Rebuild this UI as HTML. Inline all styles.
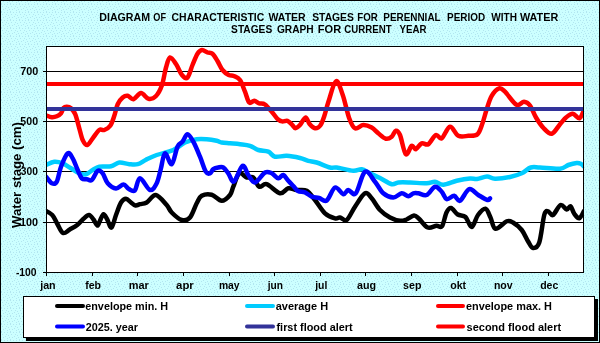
<!DOCTYPE html>
<html><head><meta charset="utf-8"><style>
html,body{margin:0;padding:0;width:600px;height:343px;overflow:hidden;background:#c7fafc}
svg{display:block;will-change:transform}
text{font-family:"Liberation Sans",sans-serif;font-weight:bold;fill:#000}
</style></head><body>
<svg width="600" height="343" viewBox="0 0 600 343">
<defs><pattern id="dith" x="0" y="4" width="9" height="8" patternUnits="userSpaceOnUse"><rect width="9" height="8" fill="#ccffff"/><g fill="#b2e6f0" shape-rendering="crispEdges"><rect x="1" y="0" width="1" height="1"/><rect x="4" y="0" width="1" height="1"/><rect x="7" y="0" width="1" height="1"/><rect x="2" y="2" width="1" height="1"/><rect x="6" y="2" width="1" height="1"/><rect x="8" y="3" width="1" height="1"/><rect x="5" y="4" width="1" height="1"/><rect x="0" y="5" width="1" height="1"/><rect x="3" y="5" width="1" height="1"/><rect x="7" y="6" width="1" height="1"/><rect x="1" y="7" width="1" height="1"/></g></pattern></defs><rect x="0" y="0" width="600" height="343" fill="url(#dith)"/>
<rect x="0.5" y="0.5" width="599" height="342" fill="none" stroke="#000" stroke-width="1"/>
<text x="99.29" y="21" font-size="10.5" textLength="50.82" lengthAdjust="spacingAndGlyphs" >DIAGRAM</text><text x="153.32" y="21" font-size="10.5" textLength="12.71" lengthAdjust="spacingAndGlyphs" >OF</text><text x="171.57" y="21" font-size="10.5" textLength="92.71" lengthAdjust="spacingAndGlyphs" >CHARACTERISTIC</text><text x="268.49" y="21" font-size="10.5" textLength="37.22" lengthAdjust="spacingAndGlyphs" >WATER</text><text x="312.21" y="21" font-size="10.5" textLength="41.69" lengthAdjust="spacingAndGlyphs" >STAGES</text><text x="357.35" y="21" font-size="10.5" textLength="20.55" lengthAdjust="spacingAndGlyphs" >FOR</text><text x="383.34" y="21" font-size="10.5" textLength="57.27" lengthAdjust="spacingAndGlyphs" >PERENNIAL</text><text x="447.04" y="21" font-size="10.5" textLength="38.08" lengthAdjust="spacingAndGlyphs" >PERIOD</text><text x="491.29" y="21" font-size="10.5" textLength="25.69" lengthAdjust="spacingAndGlyphs" >WITH</text><text x="519.99" y="21" font-size="10.5" textLength="38.22" lengthAdjust="spacingAndGlyphs" >WATER</text>
<text x="231.11" y="33" font-size="10.5" textLength="41.08" lengthAdjust="spacingAndGlyphs" >STAGES</text><text x="276.88" y="33" font-size="10.5" textLength="36.80" lengthAdjust="spacingAndGlyphs" >GRAPH</text><text x="317.86" y="33" font-size="10.5" textLength="23.37" lengthAdjust="spacingAndGlyphs" >FOR</text><text x="344.30" y="33" font-size="10.5" textLength="47.30" lengthAdjust="spacingAndGlyphs" >CURRENT</text><text x="399.53" y="33" font-size="10.5" textLength="26.96" lengthAdjust="spacingAndGlyphs" >YEAR</text>
<rect x="46" y="46" width="537" height="226" fill="#fff"/>
<line x1="46" y1="71.50" x2="583" y2="71.50" stroke="#000" stroke-width="1"/><line x1="46" y1="121.50" x2="583" y2="121.50" stroke="#000" stroke-width="1"/><line x1="46" y1="171.50" x2="583" y2="171.50" stroke="#000" stroke-width="1"/><line x1="46" y1="222.50" x2="583" y2="222.50" stroke="#000" stroke-width="1"/>
<defs><clipPath id="pc"><rect x="46" y="46" width="538" height="227"/></clipPath></defs>
<g clip-path="url(#pc)" fill="none" stroke-linejoin="round" stroke-linecap="round" stroke-width="4.5">
<path d="M45.00,210.50 C46.21,211.25 50.21,212.79 52.25,215.00 C54.29,217.21 55.46,220.75 57.25,223.75 C59.04,226.75 60.92,232.04 63.00,233.00 C65.08,233.96 67.38,230.83 69.75,229.50 C72.12,228.17 74.96,226.79 77.25,225.00 C79.54,223.21 81.54,220.42 83.50,218.75 C85.46,217.08 87.33,214.88 89.00,215.00 C90.67,215.12 92.12,217.75 93.50,219.50 C94.88,221.25 96.21,225.21 97.25,225.50 C98.29,225.79 98.71,223.12 99.75,221.25 C100.79,219.38 102.25,214.54 103.50,214.25 C104.75,213.96 105.92,217.29 107.25,219.50 C108.58,221.71 110.04,228.25 111.50,227.50 C112.96,226.75 114.42,219.17 116.00,215.00 C117.58,210.83 119.33,205.21 121.00,202.50 C122.67,199.79 124.33,198.75 126.00,198.75 C127.67,198.75 129.42,201.38 131.00,202.50 C132.58,203.62 134.00,205.22 135.50,205.50 C137.00,205.78 138.13,204.70 140.00,204.20 C141.87,203.70 144.07,204.03 146.70,202.50 C149.33,200.97 152.47,194.58 155.80,195.00 C159.13,195.42 164.05,202.08 166.70,205.00 C169.35,207.92 169.20,210.00 171.70,212.50 C174.20,215.00 178.65,219.17 181.70,220.00 C184.75,220.83 187.50,220.28 190.00,217.50 C192.50,214.72 194.75,206.92 196.70,203.30 C198.65,199.68 199.20,197.23 201.70,195.80 C204.20,194.37 208.37,193.87 211.70,194.70 C215.03,195.53 218.65,200.75 221.70,200.80 C224.75,200.85 228.07,197.35 230.00,195.00 C231.93,192.65 231.77,190.32 233.30,186.70 C234.83,183.08 236.97,174.83 239.20,173.30 C241.43,171.77 244.35,176.80 246.70,177.50 C249.05,178.20 251.22,175.97 253.30,177.50 C255.38,179.03 256.97,185.58 259.20,186.70 C261.43,187.82 263.23,183.10 266.70,184.20 C270.17,185.30 276.40,192.62 280.00,193.30 C283.60,193.98 285.52,188.85 288.30,188.30 C291.08,187.75 293.63,189.58 296.70,190.00 C299.77,190.42 303.65,189.13 306.70,190.80 C309.75,192.47 311.95,196.25 315.00,200.00 C318.05,203.75 321.67,210.25 325.00,213.30 C328.33,216.35 332.50,217.60 335.00,218.30 C337.50,219.00 338.05,217.22 340.00,217.50 C341.95,217.78 344.20,221.80 346.70,220.00 C349.20,218.20 351.95,211.15 355.00,206.70 C358.05,202.25 362.22,194.70 365.00,193.30 C367.78,191.90 369.20,195.52 371.70,198.30 C374.20,201.08 376.95,206.80 380.00,210.00 C383.05,213.20 386.67,215.70 390.00,217.50 C393.33,219.30 397.25,220.47 400.00,220.80 C402.75,221.13 404.17,220.38 406.50,219.50 C408.83,218.62 411.92,215.62 414.00,215.50 C416.08,215.38 416.71,216.75 419.00,218.75 C421.29,220.75 424.83,226.33 427.75,227.50 C430.67,228.67 434.12,225.96 436.50,225.75 C438.88,225.54 440.33,228.46 442.00,226.25 C443.67,224.04 445.00,215.54 446.50,212.50 C448.00,209.46 449.12,207.67 451.00,208.00 C452.88,208.33 455.33,213.00 457.75,214.50 C460.17,216.00 463.17,214.92 465.50,217.00 C467.83,219.08 469.67,227.33 471.75,227.00 C473.83,226.67 475.71,218.04 478.00,215.00 C480.29,211.96 483.42,208.33 485.50,208.75 C487.58,209.17 488.83,214.17 490.50,217.50 C492.17,220.83 492.79,228.12 495.50,228.75 C498.21,229.38 503.83,222.29 506.75,221.25 C509.67,220.21 510.50,221.04 513.00,222.50 C515.50,223.96 519.25,226.88 521.75,230.00 C524.25,233.12 526.12,238.25 528.00,241.25 C529.88,244.25 531.12,247.79 533.00,248.00 C534.88,248.21 537.38,248.00 539.25,242.50 C541.12,237.00 542.79,220.21 544.25,215.00 C545.71,209.79 546.54,211.25 548.00,211.25 C549.46,211.25 550.92,216.04 553.00,215.00 C555.08,213.96 558.21,205.92 560.50,205.00 C562.79,204.08 565.08,209.29 566.75,209.50 C568.42,209.71 569.25,205.54 570.50,206.25 C571.75,206.96 572.79,211.75 574.25,213.75 C575.71,215.75 577.62,218.71 579.25,218.25 C580.88,217.79 583.21,212.21 584.00,211.00" stroke="#000"/>
<path d="M46.00,165.00 C47.38,164.45 51.52,161.98 54.30,161.70 C57.08,161.42 59.92,162.20 62.70,163.30 C65.48,164.40 68.23,166.63 71.00,168.30 C73.77,169.97 76.80,172.32 79.30,173.30 C81.80,174.28 83.77,174.75 86.00,174.20 C88.23,173.65 90.48,171.25 92.70,170.00 C94.92,168.75 96.25,167.32 99.30,166.70 C102.35,166.08 107.67,167.00 111.00,166.30 C114.33,165.60 116.25,162.85 119.30,162.50 C122.35,162.15 126.23,163.92 129.30,164.20 C132.37,164.48 134.92,164.95 137.70,164.20 C140.48,163.45 142.83,161.23 146.00,159.70 C149.17,158.17 152.15,156.62 156.70,155.00 C161.25,153.38 168.58,152.08 173.30,150.00 C178.02,147.92 181.10,144.30 185.00,142.50 C188.90,140.70 193.08,139.75 196.70,139.20 C200.32,138.65 203.37,138.93 206.70,139.20 C210.03,139.47 214.20,140.25 216.70,140.80 C219.20,141.35 219.48,142.08 221.70,142.50 C223.92,142.92 226.95,143.02 230.00,143.30 C233.05,143.58 236.67,143.78 240.00,144.20 C243.33,144.62 246.95,144.83 250.00,145.80 C253.05,146.77 255.25,149.02 258.30,150.00 C261.35,150.98 265.52,150.58 268.30,151.70 C271.08,152.82 271.93,156.02 275.00,156.70 C278.07,157.38 282.53,155.58 286.70,155.80 C290.87,156.02 296.40,157.17 300.00,158.00 C303.60,158.83 305.52,160.05 308.30,160.80 C311.08,161.55 313.08,161.38 316.70,162.50 C320.32,163.62 326.67,166.67 330.00,167.50 C333.33,168.33 332.82,166.95 336.70,167.50 C340.58,168.05 349.13,170.52 353.30,170.80 C357.47,171.08 358.92,168.78 361.70,169.20 C364.48,169.62 366.95,171.83 370.00,173.30 C373.05,174.77 376.38,176.18 380.00,178.00 C383.62,179.82 388.65,183.45 391.70,184.20 C394.75,184.95 395.25,182.78 398.30,182.50 C401.35,182.22 405.27,182.37 410.00,182.50 C414.73,182.63 422.53,183.43 426.70,183.30 C430.87,183.17 432.23,181.47 435.00,181.70 C437.77,181.93 439.68,184.85 443.30,184.70 C446.92,184.55 452.25,181.83 456.70,180.80 C461.15,179.77 466.62,178.80 470.00,178.50 C473.38,178.20 474.17,179.33 477.00,179.00 C479.83,178.67 484.00,176.55 487.00,176.50 C490.00,176.45 491.17,178.62 495.00,178.70 C498.83,178.78 505.55,177.90 510.00,177.00 C514.45,176.10 518.23,174.88 521.70,173.30 C525.17,171.72 527.75,168.47 530.80,167.50 C533.85,166.53 535.13,167.30 540.00,167.50 C544.87,167.70 555.28,169.12 560.00,168.70 C564.72,168.28 565.52,165.95 568.30,165.00 C571.08,164.05 574.62,163.22 576.70,163.00 C578.78,162.78 579.58,163.12 580.80,163.70 C582.02,164.28 583.47,166.03 584.00,166.50" stroke="#00ccff"/>
<path d="M46.00,115.30 C46.97,115.62 50.00,117.03 51.80,117.20 C53.60,117.37 55.27,116.95 56.80,116.30 C58.33,115.65 59.88,114.68 61.00,113.30 C62.12,111.92 62.53,109.10 63.50,108.00 C64.47,106.90 65.55,106.65 66.80,106.70 C68.05,106.75 69.60,107.05 71.00,108.30 C72.40,109.55 73.82,110.87 75.20,114.20 C76.58,117.53 78.05,124.00 79.30,128.30 C80.55,132.60 81.37,137.22 82.70,140.00 C84.03,142.78 85.63,145.28 87.30,145.00 C88.97,144.72 90.70,140.80 92.70,138.30 C94.70,135.80 97.37,131.38 99.30,130.00 C101.23,128.62 102.48,130.70 104.30,130.00 C106.12,129.30 108.53,128.17 110.20,125.80 C111.87,123.43 113.05,119.40 114.30,115.80 C115.55,112.20 116.30,107.25 117.70,104.20 C119.10,101.15 121.03,98.90 122.70,97.50 C124.37,96.10 125.90,95.52 127.70,95.80 C129.50,96.08 131.28,99.67 133.50,99.20 C135.72,98.73 138.50,93.08 141.00,93.00 C143.50,92.92 146.00,98.25 148.50,98.75 C151.00,99.25 153.75,98.29 156.00,96.00 C158.25,93.71 160.33,89.75 162.00,85.00 C163.67,80.25 164.67,72.08 166.00,67.50 C167.33,62.92 168.33,58.08 170.00,57.50 C171.67,56.92 174.00,61.08 176.00,64.00 C178.00,66.92 180.08,72.75 182.00,75.00 C183.92,77.25 185.75,79.17 187.50,77.50 C189.25,75.83 190.83,68.96 192.50,65.00 C194.17,61.04 195.92,56.25 197.50,53.75 C199.08,51.25 200.33,50.21 202.00,50.00 C203.67,49.79 205.75,51.88 207.50,52.50 C209.25,53.12 210.83,52.33 212.50,53.75 C214.17,55.17 215.83,58.29 217.50,61.00 C219.17,63.71 220.62,67.67 222.50,70.00 C224.38,72.33 226.88,74.00 228.75,75.00 C230.62,76.00 231.88,75.17 233.75,76.00 C235.62,76.83 238.12,77.38 240.00,80.00 C241.88,82.62 243.47,87.95 245.00,91.70 C246.53,95.45 247.67,100.98 249.20,102.50 C250.73,104.02 252.53,100.67 254.20,100.80 C255.87,100.93 257.40,102.68 259.20,103.30 C261.00,103.92 262.87,103.05 265.00,104.50 C267.13,105.95 269.93,109.62 272.00,112.00 C274.07,114.38 275.72,117.23 277.40,118.80 C279.08,120.37 280.42,121.07 282.10,121.40 C283.78,121.73 285.82,120.23 287.50,120.80 C289.18,121.37 290.87,123.57 292.20,124.80 C293.53,126.03 294.17,128.20 295.50,128.20 C296.83,128.20 298.52,126.60 300.20,124.80 C301.88,123.00 304.03,117.52 305.60,117.40 C307.17,117.28 308.03,122.30 309.60,124.10 C311.17,125.90 313.22,127.97 315.00,128.20 C316.78,128.43 318.75,127.52 320.30,125.50 C321.85,123.48 322.93,120.10 324.30,116.10 C325.67,112.10 326.55,107.31 328.50,101.50 C330.45,95.69 333.62,82.33 336.00,81.25 C338.38,80.17 340.55,88.83 342.75,95.00 C344.95,101.17 347.16,112.75 349.20,118.30 C351.24,123.85 352.65,127.18 355.00,128.30 C357.35,129.42 360.52,125.13 363.30,125.00 C366.08,124.87 369.20,126.12 371.70,127.50 C374.20,128.88 375.95,131.43 378.30,133.30 C380.65,135.17 383.57,138.13 385.80,138.70 C388.03,139.27 390.03,138.02 391.70,136.70 C393.37,135.38 394.42,131.08 395.80,130.80 C397.18,130.52 398.33,131.10 400.00,135.00 C401.67,138.90 403.85,152.40 405.80,154.20 C407.75,156.00 410.03,146.63 411.70,145.80 C413.37,144.97 414.13,149.62 415.80,149.20 C417.47,148.78 419.62,144.13 421.70,143.30 C423.78,142.47 425.95,145.58 428.30,144.20 C430.65,142.82 433.57,135.98 435.80,135.00 C438.03,134.02 439.33,139.68 441.70,138.30 C444.07,136.92 447.23,127.12 450.00,126.70 C452.77,126.28 455.25,134.28 458.30,135.80 C461.35,137.32 465.10,136.07 468.30,135.80 C471.50,135.53 475.13,136.28 477.50,134.20 C479.87,132.12 480.97,127.47 482.50,123.30 C484.03,119.13 485.17,113.78 486.70,109.20 C488.23,104.62 489.62,99.28 491.70,95.80 C493.78,92.32 496.98,88.98 499.20,88.30 C501.42,87.62 502.12,88.96 505.00,91.70 C507.88,94.44 513.33,103.08 516.50,104.75 C519.67,106.42 521.75,101.62 524.00,101.75 C526.25,101.88 528.00,102.88 530.00,105.50 C532.00,108.12 533.75,113.75 536.00,117.50 C538.25,121.25 540.88,125.30 543.50,128.00 C546.12,130.70 549.00,134.32 551.75,133.70 C554.50,133.07 557.62,126.95 560.00,124.25 C562.38,121.55 563.88,119.25 566.00,117.50 C568.12,115.75 570.50,113.62 572.75,113.75 C575.00,113.88 577.62,118.88 579.50,118.25 C581.38,117.62 583.25,111.38 584.00,110.00" stroke="#ff0000"/>
<path d="M46.00,176.70 C46.97,177.80 50.00,182.47 51.80,183.30 C53.60,184.13 55.27,184.47 56.80,181.70 C58.33,178.93 59.18,171.43 61.00,166.70 C62.82,161.97 65.75,154.70 67.70,153.30 C69.65,151.90 71.03,155.52 72.70,158.30 C74.37,161.08 76.18,166.67 77.70,170.00 C79.22,173.33 80.28,176.77 81.80,178.30 C83.32,179.83 85.13,178.92 86.80,179.20 C88.47,179.48 89.98,181.40 91.80,180.00 C93.62,178.60 95.88,171.92 97.70,170.80 C99.52,169.68 101.03,171.22 102.70,173.30 C104.37,175.38 105.48,180.77 107.70,183.30 C109.92,185.83 113.37,188.30 116.00,188.50 C118.63,188.70 121.42,184.46 123.50,184.50 C125.58,184.54 126.62,187.75 128.50,188.75 C130.38,189.75 132.83,192.24 134.75,190.50 C136.67,188.76 137.46,178.38 140.00,178.30 C142.54,178.22 147.22,189.17 150.00,190.00 C152.78,190.83 154.90,186.80 156.70,183.30 C158.50,179.80 159.42,174.00 160.80,169.00 C162.18,164.00 163.18,154.10 165.00,153.30 C166.82,152.50 169.62,165.30 171.70,164.20 C173.78,163.10 175.70,150.45 177.50,146.70 C179.30,142.95 180.83,143.78 182.50,141.70 C184.17,139.62 185.70,134.20 187.50,134.20 C189.30,134.20 191.22,137.95 193.30,141.70 C195.38,145.45 197.92,151.70 200.00,156.70 C202.08,161.70 204.13,168.93 205.80,171.70 C207.47,174.47 208.75,173.72 210.00,173.30 C211.25,172.88 211.92,170.17 213.30,169.20 C214.68,168.23 216.63,167.78 218.30,167.50 C219.97,167.22 221.63,166.53 223.30,167.50 C224.97,168.47 226.52,170.97 228.30,173.30 C230.08,175.63 231.63,182.75 234.00,181.50 C236.37,180.25 240.12,166.88 242.50,165.80 C244.88,164.72 246.22,172.22 248.30,175.00 C250.38,177.78 252.22,182.92 255.00,182.50 C257.78,182.08 262.22,174.03 265.00,172.50 C267.78,170.97 269.48,172.33 271.70,173.30 C273.92,174.27 276.37,178.02 278.30,178.30 C280.23,178.58 281.63,174.58 283.30,175.00 C284.97,175.42 286.63,178.97 288.30,180.80 C289.97,182.63 291.68,184.30 293.30,186.00 C294.92,187.70 296.05,189.95 298.00,191.00 C299.95,192.05 302.70,191.37 305.00,192.30 C307.30,193.23 309.47,195.65 311.80,196.60 C314.13,197.55 316.52,197.35 319.00,198.00 C321.48,198.65 324.03,202.25 326.70,200.50 C329.37,198.75 332.23,188.55 335.00,187.50 C337.77,186.45 341.08,193.78 343.30,194.20 C345.52,194.62 346.22,190.15 348.30,190.00 C350.38,189.85 353.02,196.35 355.80,193.30 C358.58,190.25 361.80,173.63 365.00,171.70 C368.20,169.77 371.95,178.10 375.00,181.70 C378.05,185.30 380.25,190.67 383.30,193.30 C386.35,195.93 390.23,197.50 393.30,197.50 C396.37,197.50 399.20,193.50 401.70,193.30 C404.20,193.10 406.37,196.30 408.30,196.30 C410.23,196.30 411.63,193.80 413.30,193.30 C414.97,192.80 416.07,193.02 418.30,193.30 C420.53,193.58 423.92,196.10 426.70,195.00 C429.48,193.90 432.50,187.25 435.00,186.70 C437.50,186.15 439.75,189.62 441.70,191.70 C443.65,193.78 444.62,198.52 446.70,199.20 C448.78,199.88 451.98,195.53 454.20,195.80 C456.42,196.07 457.50,201.90 460.00,200.80 C462.50,199.70 466.15,190.17 469.20,189.20 C472.25,188.23 475.25,193.20 478.30,195.00 C481.35,196.80 485.55,199.45 487.50,200.00 C489.45,200.55 489.58,198.58 490.00,198.30" stroke="#0000ff"/>
</g>
<line x1="46" y1="84" x2="583" y2="84" stroke="#ff0000" stroke-width="4"/>
<line x1="46" y1="109" x2="583" y2="109" stroke="#333399" stroke-width="4"/>
<rect x="46.5" y="46.5" width="537" height="226" fill="none" stroke="#000" stroke-width="1"/>
<line x1="43" y1="71.50" x2="47" y2="71.50" stroke="#000" stroke-width="1"/><line x1="43" y1="121.50" x2="47" y2="121.50" stroke="#000" stroke-width="1"/><line x1="43" y1="171.50" x2="47" y2="171.50" stroke="#000" stroke-width="1"/><line x1="43" y1="222.50" x2="47" y2="222.50" stroke="#000" stroke-width="1"/><line x1="43" y1="272.50" x2="47" y2="272.50" stroke="#000" stroke-width="1"/><line x1="46.50" y1="272" x2="46.50" y2="276" stroke="#000" stroke-width="1"/><line x1="92.50" y1="272" x2="92.50" y2="276" stroke="#000" stroke-width="1"/><line x1="137.50" y1="272" x2="137.50" y2="276" stroke="#000" stroke-width="1"/><line x1="183.50" y1="272" x2="183.50" y2="276" stroke="#000" stroke-width="1"/><line x1="229.50" y1="272" x2="229.50" y2="276" stroke="#000" stroke-width="1"/><line x1="274.50" y1="272" x2="274.50" y2="276" stroke="#000" stroke-width="1"/><line x1="320.50" y1="272" x2="320.50" y2="276" stroke="#000" stroke-width="1"/><line x1="365.50" y1="272" x2="365.50" y2="276" stroke="#000" stroke-width="1"/><line x1="411.50" y1="272" x2="411.50" y2="276" stroke="#000" stroke-width="1"/><line x1="457.50" y1="272" x2="457.50" y2="276" stroke="#000" stroke-width="1"/><line x1="502.50" y1="272" x2="502.50" y2="276" stroke="#000" stroke-width="1"/><line x1="548.50" y1="272" x2="548.50" y2="276" stroke="#000" stroke-width="1"/>
<g font-size="11"><text x="20.14" y="74.70" font-size="11" textLength="18.01" lengthAdjust="spacingAndGlyphs" >700</text><text x="20.37" y="124.70" font-size="11" textLength="17.66" lengthAdjust="spacingAndGlyphs" >500</text><text x="20.77" y="174.70" font-size="11" textLength="17.05" lengthAdjust="spacingAndGlyphs" >300</text><text x="20.02" y="225.70" font-size="11" textLength="18.02" lengthAdjust="spacingAndGlyphs" >100</text><text x="15.90" y="275.70" font-size="11" textLength="20.73" lengthAdjust="spacingAndGlyphs" >-100</text><text x="40.17" y="288.7" font-size="11" textLength="15.50" lengthAdjust="spacingAndGlyphs" >jan</text><text x="85.22" y="288.7" font-size="11" textLength="15.81" lengthAdjust="spacingAndGlyphs" >feb</text><text x="128.68" y="288.7" font-size="11" textLength="20.09" lengthAdjust="spacingAndGlyphs" >mar</text><text x="176.07" y="288.7" font-size="11" textLength="17.71" lengthAdjust="spacingAndGlyphs" >apr</text><text x="218.92" y="288.7" font-size="11" textLength="20.74" lengthAdjust="spacingAndGlyphs" >may</text><text x="267.76" y="288.7" font-size="11" textLength="15.27" lengthAdjust="spacingAndGlyphs" >jun</text><text x="315.16" y="288.7" font-size="11" textLength="12.18" lengthAdjust="spacingAndGlyphs" >jul</text><text x="357.09" y="288.7" font-size="11" textLength="19.03" lengthAdjust="spacingAndGlyphs" >aug</text><text x="403.02" y="288.7" font-size="11" textLength="18.41" lengthAdjust="spacingAndGlyphs" >sep</text><text x="450.18" y="288.7" font-size="11" textLength="15.94" lengthAdjust="spacingAndGlyphs" >okt</text><text x="493.91" y="288.7" font-size="11" textLength="18.74" lengthAdjust="spacingAndGlyphs" >nov</text><text x="540.17" y="288.7" font-size="11" textLength="18.14" lengthAdjust="spacingAndGlyphs" >dec</text></g>
<text transform="translate(21,228) rotate(-90)" font-size="13" textLength="106" lengthAdjust="spacingAndGlyphs">Water stage (cm)</text>
<rect x="26" y="299" width="572" height="42" fill="#000"/>
<rect x="23.5" y="296.5" width="571" height="41" fill="#fff" stroke="#000" stroke-width="1"/>
<g stroke-width="4" stroke-linecap="round">
<line x1="57" y1="306" x2="83" y2="306" stroke="#000"/>
<line x1="57" y1="326.5" x2="83" y2="326.5" stroke="#0000ff"/>
<line x1="247" y1="306" x2="273" y2="306" stroke="#00ccff"/>
<line x1="247" y1="326.5" x2="273" y2="326.5" stroke="#333399"/>
<line x1="438" y1="306" x2="463" y2="306" stroke="#ff0000"/>
<line x1="438" y1="326.5" x2="463" y2="326.5" stroke="#ff0000"/>
</g>
<text x="85.28" y="310" font-size="11" textLength="82.85" lengthAdjust="spacingAndGlyphs" >envelope min. H</text><text x="85.63" y="330.7" font-size="11" textLength="52.24" lengthAdjust="spacingAndGlyphs" >2025. year</text><text x="275.68" y="310" font-size="11" textLength="52.46" lengthAdjust="spacingAndGlyphs" >average H</text><text x="276.51" y="330.7" font-size="11" textLength="76.12" lengthAdjust="spacingAndGlyphs" >first flood alert</text><text x="465.97" y="310" font-size="11" textLength="85.96" lengthAdjust="spacingAndGlyphs" >envelope max. H</text><text x="466.61" y="330.7" font-size="11" textLength="94.52" lengthAdjust="spacingAndGlyphs" >second flood alert</text>
</svg>
</body></html>
